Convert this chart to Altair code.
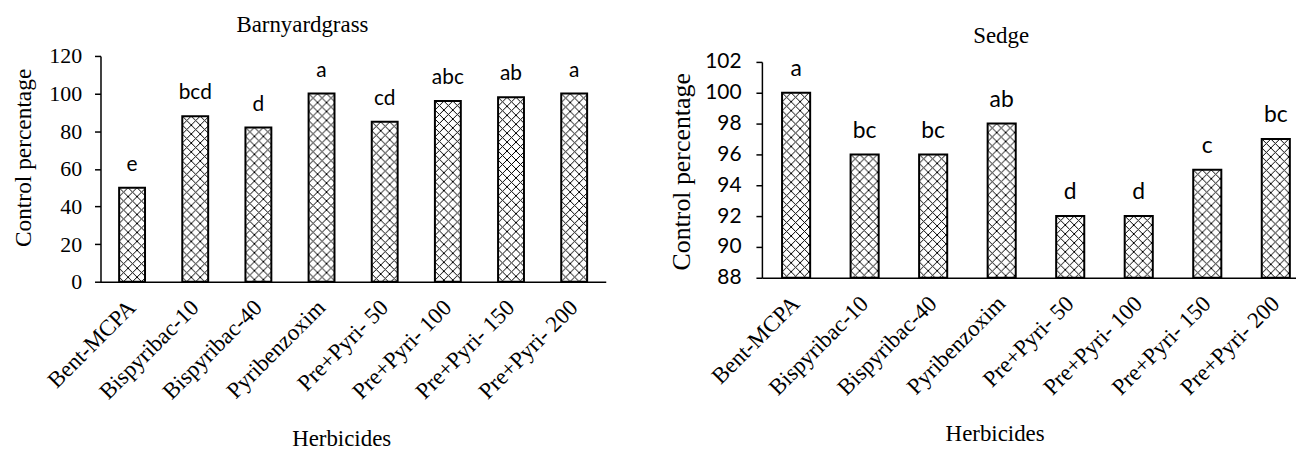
import base64
import altair as alt
import pandas as pd

# ---------------- data ----------------
categories = ["Bent-MCPA", "Bispyribac-10", "Bispyribac-40", "Pyribenzoxim",
              "Pre+Pyri- 50", "Pre+Pyri- 100", "Pre+Pyri- 150", "Pre+Pyri- 200"]
barnyard_values = [50, 88, 82, 100, 85, 96, 98, 100]
barnyard_letters = ["e", "bcd", "d", "a", "cd", "abc", "ab", "a"]
sedge_values = [100, 96, 96, 98, 92, 92, 95, 97]
sedge_letters = ["a", "bc", "bc", "ab", "d", "d", "c", "bc"]
barnyard_ticks = [0, 20, 40, 60, 80, 100, 120]
sedge_ticks = [88, 90, 92, 94, 96, 98, 100, 102]

SERIF = "Liberation Serif"
SANS = "Lato"


def hatch_uri(w, h, period=9):
    svg = (f"<svg xmlns='http://www.w3.org/2000/svg' width='{w}' height='{h}'>"
           f"<defs><pattern id='p' width='{period}' height='{period}' patternUnits='userSpaceOnUse'>"
           f"<path d='M0,0L{period},{period}M{period},0L0,{period}' stroke='black' "
           f"stroke-width='1' fill='none'/></pattern></defs>"
           "<rect width='100%' height='100%' fill='white'/>"
           "<rect width='100%' height='100%' fill='url(#p)'/></svg>")
    return "data:image/svg+xml;base64," + base64.b64encode(svg.encode()).decode()


def panel(values, letters, title, ticks, domain, width, height, yrange,
          pad_outer, align, bar_w, title_dx, title_offset,
          ytitle_x, ytitle_y, ytitle_size, ylab_font, ylab_size, ylab_pad,
          xtitle_x, xtitle_y, letter_size):
    df = pd.DataFrame({"Herbicide": categories, "value": values, "letter": letters})
    base = alt.Chart(df)

    xscale = alt.Scale(paddingInner=0.59, paddingOuter=pad_outer, align=align)
    xaxis = alt.Axis(title="Herbicides", titleFont=SERIF, titleFontSize=23,
                     titleFontWeight="normal", titleColor="black",
                     titleX=xtitle_x, titleY=xtitle_y, titleBaseline="alphabetic",
                     titleAlign="center",
                     labelFont=SERIF, labelFontSize=23, labelColor="black",
                     labelAngle=-45, labelAlign="right", labelBaseline="middle",
                     labelPadding=22, labelOverlap=False, labelLimit=0,
                     ticks=False, tickSize=0, domainColor="black", domainWidth=1.5)
    yscale_kw = dict(domain=domain, zero=False, nice=False)
    if yrange is not None:
        yscale_kw["range"] = yrange
    yscale = alt.Scale(**yscale_kw)
    yaxis = alt.Axis(values=ticks, title="Control percentage", titleFont=SERIF,
                     titleFontSize=ytitle_size, titleFontWeight="normal", titleColor="black",
                     titleX=ytitle_x, titleY=ytitle_y, titleBaseline="alphabetic",
                     titleAlign="center", titleAngle=270,
                     labelFont=ylab_font, labelFontSize=ylab_size, labelColor="black",
                     labelPadding=ylab_pad, tickSize=6, tickColor="black", tickWidth=1.5,
                     domainColor="black", domainWidth=1.5, grid=False)

    x_bar = alt.X("Herbicide:N", sort=categories, scale=xscale, axis=xaxis)
    x_mid = alt.X("Herbicide:N", sort=categories, scale=xscale, axis=xaxis, bandPosition=0.5)
    y = alt.Y("value:Q", scale=yscale, axis=yaxis)

    hatch = base.mark_image(width=bar_w, height=260, align="center", baseline="top",
                            aspect=False, clip=True).encode(
        x=x_mid, y=y, url=alt.value(hatch_uri(bar_w, 260)))
    bars = base.mark_bar(fill="transparent", stroke="black", strokeWidth=2).encode(
        x=x_bar, y=y, y2=alt.datum(domain[0]))
    labels = base.mark_text(font=SANS, fontSize=letter_size, baseline="alphabetic",
                            dy=-17, color="black").encode(x=x_mid, y=y, text="letter:N")

    return alt.layer(hatch, bars, labels).properties(
        width=width, height=height,
        title=alt.TitleParams(text=title, font=SERIF, fontSize=23, fontWeight="normal",
                              color="black", anchor="middle", dx=title_dx,
                              offset=title_offset, frame="group", baseline="alphabetic"))


left = panel(barnyard_values, barnyard_letters, "Barnyardgrass", barnyard_ticks, [0, 120],
             width=508, height=227, yrange=None, pad_outer=0.295, align=0.5, bar_w=26,
             title_dx=-51, title_offset=-10,
             ytitle_x=-70, ytitle_y=102, ytitle_size=23.5,
             ylab_font=SERIF, ylab_size=22, ylab_pad=13,
             xtitle_x=242, xtitle_y=165, letter_size=21)

right = panel(sedge_values, sedge_letters, "Sedge", sedge_ticks, [88, 102],
              width=537, height=223, yrange=[223, 6], pad_outer=0.192, align=0.766, bar_w=28,
              title_dx=-28, title_offset=-15,
              ytitle_x=-73, ytitle_y=116, ytitle_size=26,
              ylab_font=SANS, ylab_size=21, ylab_pad=15,
              xtitle_x=234, xtitle_y=164, letter_size=23)

chart = alt.hconcat(left, right, spacing=157, bounds="flush").properties(
    padding={"left": 4, "top": 5, "right": 0, "bottom": 0},
    background="white",
).configure_view(stroke=None)

chart.save("out.html", embed_options={"renderer": "svg", "actions": False})
